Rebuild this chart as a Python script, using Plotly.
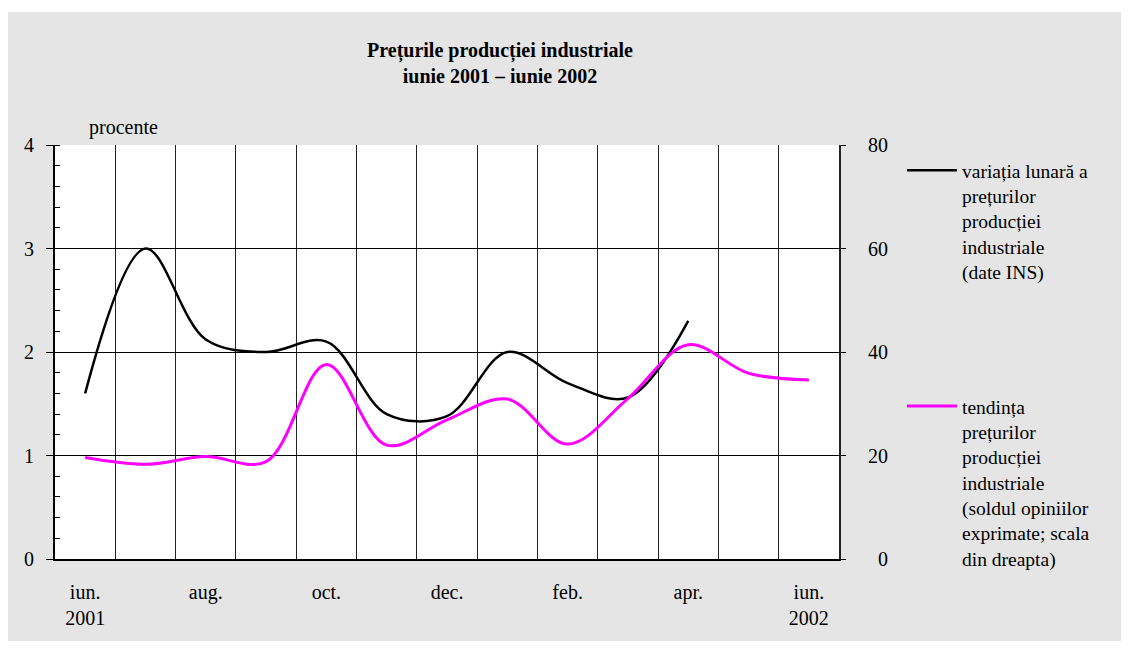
import plotly.graph_objects as go

categories = ["iun. 2001", "iul. 2001", "aug. 2001", "sep. 2001", "oct. 2001", "nov. 2001",
              "dec. 2001", "ian. 2002", "feb. 2002", "mar. 2002", "apr. 2002", "mai 2002", "iun. 2002"]
tick_text = ["iun.<br>2001", "", "aug.", "", "oct.", "", "dec.", "", "feb.", "", "apr.", "", "iun.<br>2002"]

variatia_lunara = [1.6, 3.0, 2.12, 2.0, 2.1, 1.4, 1.38, 2.0, 1.7, 1.56, 2.3, None, None]
tendinta = [19.6, 18.3, 19.8, 18.8, 37.6, 22.0, 26.9, 30.9, 22.2, 31.0, 41.4, 35.9, 34.6]

left_ticks = [0, 1, 2, 3, 4]
right_ticks = [0, 20, 40, 60, 80]
right_ticktext = ["\u00a0\u00a00", "20", "40", "60", "80"]

name_black = "variația lunară a<br>prețurilor<br>producției<br>industriale<br>(date INS)"
name_mag = ("tendința<br>prețurilor<br>producției<br>industriale<br>(soldul opiniilor<br>"
            "exprimate; scala<br>din dreapta)")

FONT = "Liberation Serif"
OFF = 8  # page body margin
W, H = 1121, 646
L, R, T, B = 47, 290, 137, 95
pw, ph = W - L - R, H - T - B

def px_x(x):
    return (x - OFF - L) / pw

def px_y(y):
    return (H - B - (y - OFF)) / ph

fig = go.Figure()
fig.add_trace(go.Scatter(x=categories, y=variatia_lunara, name=name_black, mode="lines",
                         line=dict(color="black", width=2.5, shape="spline", smoothing=1),
                         legendgroup="a", yaxis="y"))
fig.add_trace(go.Scatter(x=categories, y=tendinta, name=name_mag, mode="lines",
                         line=dict(color="#FF00FF", width=3, shape="spline", smoothing=1),
                         legendgroup="b", yaxis="y2"))

fig.update_layout(
    width=W, height=H,
    margin=dict(l=L, r=R, t=T, b=B, autoexpand=False),
    paper_bgcolor="white",
    plot_bgcolor="rgba(0,0,0,0)",
    font=dict(family=FONT, size=20, color="black"),
    title=dict(text="<b>Prețurile producției industriale<br>iunie 2001 – iunie 2002</b>",
               x=(500 - OFF) / W, xanchor="center", xref="container",
               y=1 - 49 / H, yanchor="top", font=dict(size=20, family=FONT)),
    showlegend=True,
    legend=dict(x=px_x(902), xanchor="left", y=px_y(151), yanchor="top",
                bgcolor="rgba(0,0,0,0)", font=dict(size=19.5, family=FONT),
                valign="top", tracegroupgap=106, itemwidth=50, traceorder="grouped",
                maxheight=620),
    xaxis=dict(type="category", categoryorder="array", categoryarray=categories,
               tickvals=categories, ticktext=tick_text, tickson="boundaries",
               ticks="", showgrid=True, gridcolor="#222", gridwidth=1,
               showline=True, linecolor="black", linewidth=2,
               ticklabelstandoff=14, tickfont=dict(size=20, family=FONT), zeroline=False,
               range=[-0.5, 12.5]),
    yaxis=dict(range=[0, 4], tickvals=left_ticks, ticks="outside", ticklen=7,
               tickcolor="black", tickwidth=1, showgrid=True, gridcolor="black", gridwidth=1,
               showline=True, linecolor="black", linewidth=2, zeroline=False,
               ticklabelstandoff=8, tickfont=dict(size=20, family=FONT),
               minor=dict(dtick=0.2, ticks="inside", ticklen=5, tickcolor="black", showgrid=False)),
    yaxis2=dict(range=[0, 80], tickvals=right_ticks, ticktext=right_ticktext, overlaying="y",
                side="right", ticks="outside", ticklen=5, tickcolor="black", showgrid=False,
                showline=True, linecolor="#222", linewidth=2, zeroline=False,
                ticklabelstandoff=18, tickfont=dict(size=20, family=FONT)),
    annotations=[dict(text="procente", x=px_x(123), y=px_y(127), xref="paper", yref="paper",
                      showarrow=False, xanchor="center", yanchor="middle",
                      font=dict(size=20, family=FONT))],
    shapes=[
        dict(type="rect", xref="paper", yref="paper", x0=px_x(8), x1=px_x(1122),
             y0=px_y(641), y1=px_y(12), fillcolor="#e5e5e5", line=dict(width=0), layer="below"),
        dict(type="rect", xref="paper", yref="paper", x0=0, x1=1, y0=0, y1=1,
             fillcolor="white", line=dict(width=0), layer="below"),
    ],
)

fig.write_html("out.html")
